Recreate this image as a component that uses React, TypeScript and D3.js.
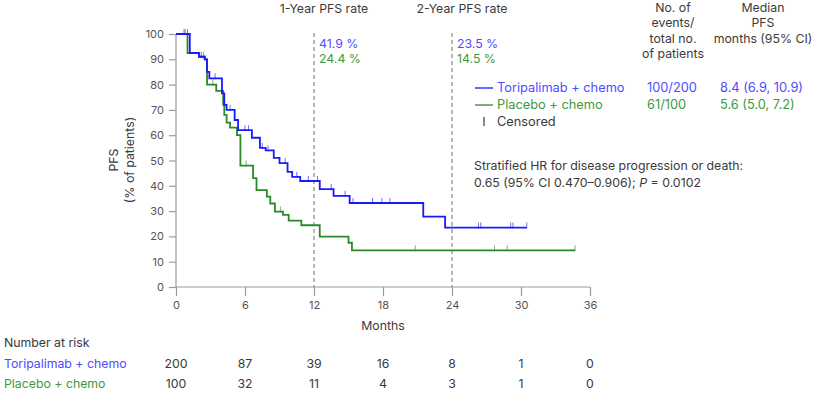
import React, { useEffect, useRef } from "react";
import * as d3 from "d3";

// Kaplan-Meier steps: [month, % PFS]
const toriSteps: [number, number][] = [
  [0, 100], [1.2, 92.5], [2.0, 91], [2.5, 90], [2.7, 85], [2.9, 82.5], [4.0, 76.5],
  [4.2, 72], [4.4, 70], [5.1, 66], [5.4, 62], [6.6, 59], [7.3, 55], [7.8, 54],
  [8.5, 51], [9.0, 49], [9.7, 45.5], [10.1, 43.5], [10.8, 41.9], [12.5, 38.7],
  [13.7, 36], [15.1, 33.2], [21.5, 27.8], [23.4, 23.5],
];
const toriEnd = 30.5;
const toriCensored = [0.7, 1.0, 2.2, 3.4, 4.7, 6.0, 6.3, 7.5, 8.0, 9.5, 10.5, 11.5, 12.3,
  13.5, 14.7, 15.4, 17.1, 17.9, 18.6, 26.3, 26.5, 29.1, 29.3, 30.5];

const placSteps: [number, number][] = [
  [0, 100], [1.0, 92.5], [2.0, 91], [2.5, 90], [2.7, 80], [3.5, 77.5], [4.1, 72],
  [4.2, 68], [4.4, 65], [4.7, 63], [5.3, 60], [5.6, 48], [6.7, 43], [7.0, 38.3],
  [7.9, 35.7], [8.2, 33], [8.6, 29.8], [9.3, 28.5], [9.8, 26.2], [10.9, 24.4],
  [12.5, 19.9], [15.0, 17.5], [15.3, 14.5],
];
const placEnd = 34.7;
const placCensored = [0.8, 2.4, 3.2, 6.1, 9.1, 20.8, 27.7, 28.8, 34.7];

const xTicks = [0, 6, 12, 18, 24, 30, 36];
const yTicks = [0, 10, 20, 30, 40, 50, 60, 70, 80, 90, 100];
const landmarks = [12, 24];
const landmarkTitles = ["1-Year PFS rate", "2-Year PFS rate"];
const toriRates = ["41.9 %", "23.5 %"];
const placRates = ["24.4 %", "14.5 %"];
const toriAtRisk = [200, 87, 39, 16, 8, 1, 0];
const placAtRisk = [100, 32, 11, 4, 3, 1, 0];

const BLUE_LINE = "#1a1aff";
const BLUE_TEXT = "#4d4dff";
const GREEN_LINE = "#2a8a2a";
const GREEN_TEXT = "#3d9a3d";
const TEXT = "#3a3a3a";
const AXIS = "#9a9a9a";
const FONT = "Inter, Roboto, sans-serif";
const FS = 12.3;

const App = () => {
  const ref = useRef<SVGSVGElement>(null);

  useEffect(() => {
    const svg = d3.select(ref.current);
    svg.selectAll("*").remove();
    svg.attr("font-family", FONT);

    const x = d3.scaleLinear().domain([0, 36]).range([176, 590]);
    const y = d3.scaleLinear().domain([0, 100]).range([287, 34]);

    // axes
    const yAxis = svg.append("g").attr("transform", `translate(${x(0)},0)`)
      .call(d3.axisLeft(y).tickValues(yTicks).tickSize(7).tickPadding(5));
    const xAxis = svg.append("g").attr("transform", `translate(0,${y(0)})`)
      .call(d3.axisBottom(x).tickValues(xTicks).tickSize(9).tickPadding(5));
    [yAxis, xAxis].forEach((g) => {
      g.select(".domain").attr("stroke", AXIS).attr("stroke-width", 1.2);
      g.selectAll(".tick line").attr("stroke", AXIS).attr("stroke-width", 1.2);
      g.selectAll(".tick text").attr("fill", "#555").attr("font-size", 11).attr("font-family", FONT);
    });
    yAxis.select(".domain").attr("d", `M0,${y(0)}V${y(100)}`);
    xAxis.select(".domain").attr("d", `M${x(0)},0H${x(36)}`);

    svg.append("text").attr("x", x(18)).attr("y", 330).attr("text-anchor", "middle")
      .attr("font-size", FS).attr("fill", TEXT).text("Months");

    const yl = svg.append("g").attr("transform", "translate(0,160) rotate(-90)")
      .attr("text-anchor", "middle").attr("font-size", FS).attr("fill", TEXT);
    yl.append("text").attr("x", 0).attr("y", 118).text("PFS");
    yl.append("text").attr("x", 0).attr("y", 134).text("(% of patients)");

    // landmark lines
    landmarks.forEach((m, i) => {
      svg.append("line").attr("x1", x(m)).attr("x2", x(m)).attr("y1", 33).attr("y2", y(0))
        .attr("stroke", "#888").attr("stroke-width", 1.2).attr("stroke-dasharray", "4,3");
      svg.append("text").attr("x", x(m) + 10).attr("y", 13).attr("text-anchor", "middle")
        .attr("font-size", FS).attr("fill", TEXT).text(landmarkTitles[i]);
      svg.append("text").attr("x", x(m) + 5).attr("y", 48).attr("font-size", FS)
        .attr("fill", BLUE_TEXT).text(toriRates[i]);
      svg.append("text").attr("x", x(m) + 5).attr("y", 63).attr("font-size", FS)
        .attr("fill", GREEN_TEXT).text(placRates[i]);
    });

    // curves
    const line = d3.line<[number, number]>().x((d) => x(d[0])).y((d) => y(d[1]))
      .curve(d3.curveStepAfter);
    const survAt = (steps: [number, number][], t: number) => {
      let s = 100;
      steps.forEach((d) => { if (d[0] <= t) s = d[1]; });
      return s;
    };
    const drawArm = (steps: [number, number][], end: number, cens: number[], color: string) => {
      const pts: [number, number][] = [...steps, [end, steps[steps.length - 1][1]]];
      svg.append("path").attr("d", line(pts)).attr("fill", "none")
        .attr("stroke", color).attr("stroke-width", 1.8);
      svg.append("g").selectAll("line").data(cens).join("line")
        .attr("x1", (d) => x(d)).attr("x2", (d) => x(d))
        .attr("y1", (d) => y(survAt(steps, d)) - 5).attr("y2", (d) => y(survAt(steps, d)) + 1)
        .attr("stroke", color).attr("stroke-width", 0.9).attr("opacity", 0.7);
    };
    drawArm(placSteps, placEnd, placCensored, GREEN_LINE);
    drawArm(toriSteps, toriEnd, toriCensored, BLUE_LINE);

    // header
    const hdr = svg.append("g").attr("font-size", FS).attr("fill", TEXT).attr("text-anchor", "middle");
    ["No. of", "events/", "total no.", "of patients"].forEach((t, i) =>
      hdr.append("text").attr("x", 673).attr("y", 12 + i * 15.3).text(t));
    ["Median", "PFS", "months (95% CI)"].forEach((t, i) =>
      hdr.append("text").attr("x", 763).attr("y", 12 + i * 15.3).text(t));

    // legend
    const legend = [
      { name: "Toripalimab + chemo", events: "100/200", median: "8.4 (6.9, 10.9)", line: BLUE_LINE, text: BLUE_TEXT, yy: 92 },
      { name: "Placebo + chemo", events: "61/100", median: "5.6 (5.0, 7.2)", line: GREEN_LINE, text: GREEN_TEXT, yy: 109 },
    ];
    legend.forEach((l) => {
      svg.append("line").attr("x1", 475).attr("x2", 493).attr("y1", l.yy - 4).attr("y2", l.yy - 4)
        .attr("stroke", l.line).attr("stroke-width", 1.3);
      svg.append("text").attr("x", 497).attr("y", l.yy).attr("font-size", FS + 0.5).attr("fill", l.text).text(l.name);
      svg.append("text").attr("x", 647).attr("y", l.yy).attr("font-size", FS + 0.5).attr("fill", l.text).text(l.events);
      svg.append("text").attr("x", 720).attr("y", l.yy).attr("font-size", FS + 0.5).attr("fill", l.text).text(l.median);
    });
    svg.append("line").attr("x1", 484).attr("x2", 484).attr("y1", 117).attr("y2", 126)
      .attr("stroke", TEXT).attr("stroke-width", 1.2);
    svg.append("text").attr("x", 497).attr("y", 126).attr("font-size", FS + 0.5).attr("fill", TEXT).text("Censored");

    svg.append("text").attr("x", 474).attr("y", 170).attr("font-size", FS).attr("fill", TEXT)
      .text("Stratified HR for disease progression or death:");
    const hr = svg.append("text").attr("x", 474).attr("y", 187).attr("font-size", FS).attr("fill", TEXT);
    hr.append("tspan").text("0.65 (95% CI 0.470\u20130.906); ");
    hr.append("tspan").attr("font-style", "italic").text("P");
    hr.append("tspan").text(" = 0.0102");

    // number at risk
    svg.append("text").attr("x", 4).attr("y", 347).attr("font-size", FS).attr("fill", TEXT).text("Number at risk");
    const rows = [
      { label: "Toripalimab + chemo", vals: toriAtRisk, color: BLUE_TEXT, yy: 368 },
      { label: "Placebo + chemo", vals: placAtRisk, color: GREEN_TEXT, yy: 388 },
    ];
    rows.forEach((r) => {
      svg.append("text").attr("x", 4).attr("y", r.yy).attr("font-size", FS).attr("fill", r.color).text(r.label);
      svg.append("g").selectAll("text").data(r.vals).join("text")
        .attr("x", (_d, i) => x(xTicks[i])).attr("y", r.yy).attr("text-anchor", "middle")
        .attr("font-size", FS).attr("fill", TEXT).text((d) => d);
    });
  }, []);

  return (
    <svg ref={ref} width={818} height={393}
      style={{ position: "absolute", left: 0, top: 0, background: "#fff" }} />
  );
};

export default App;
